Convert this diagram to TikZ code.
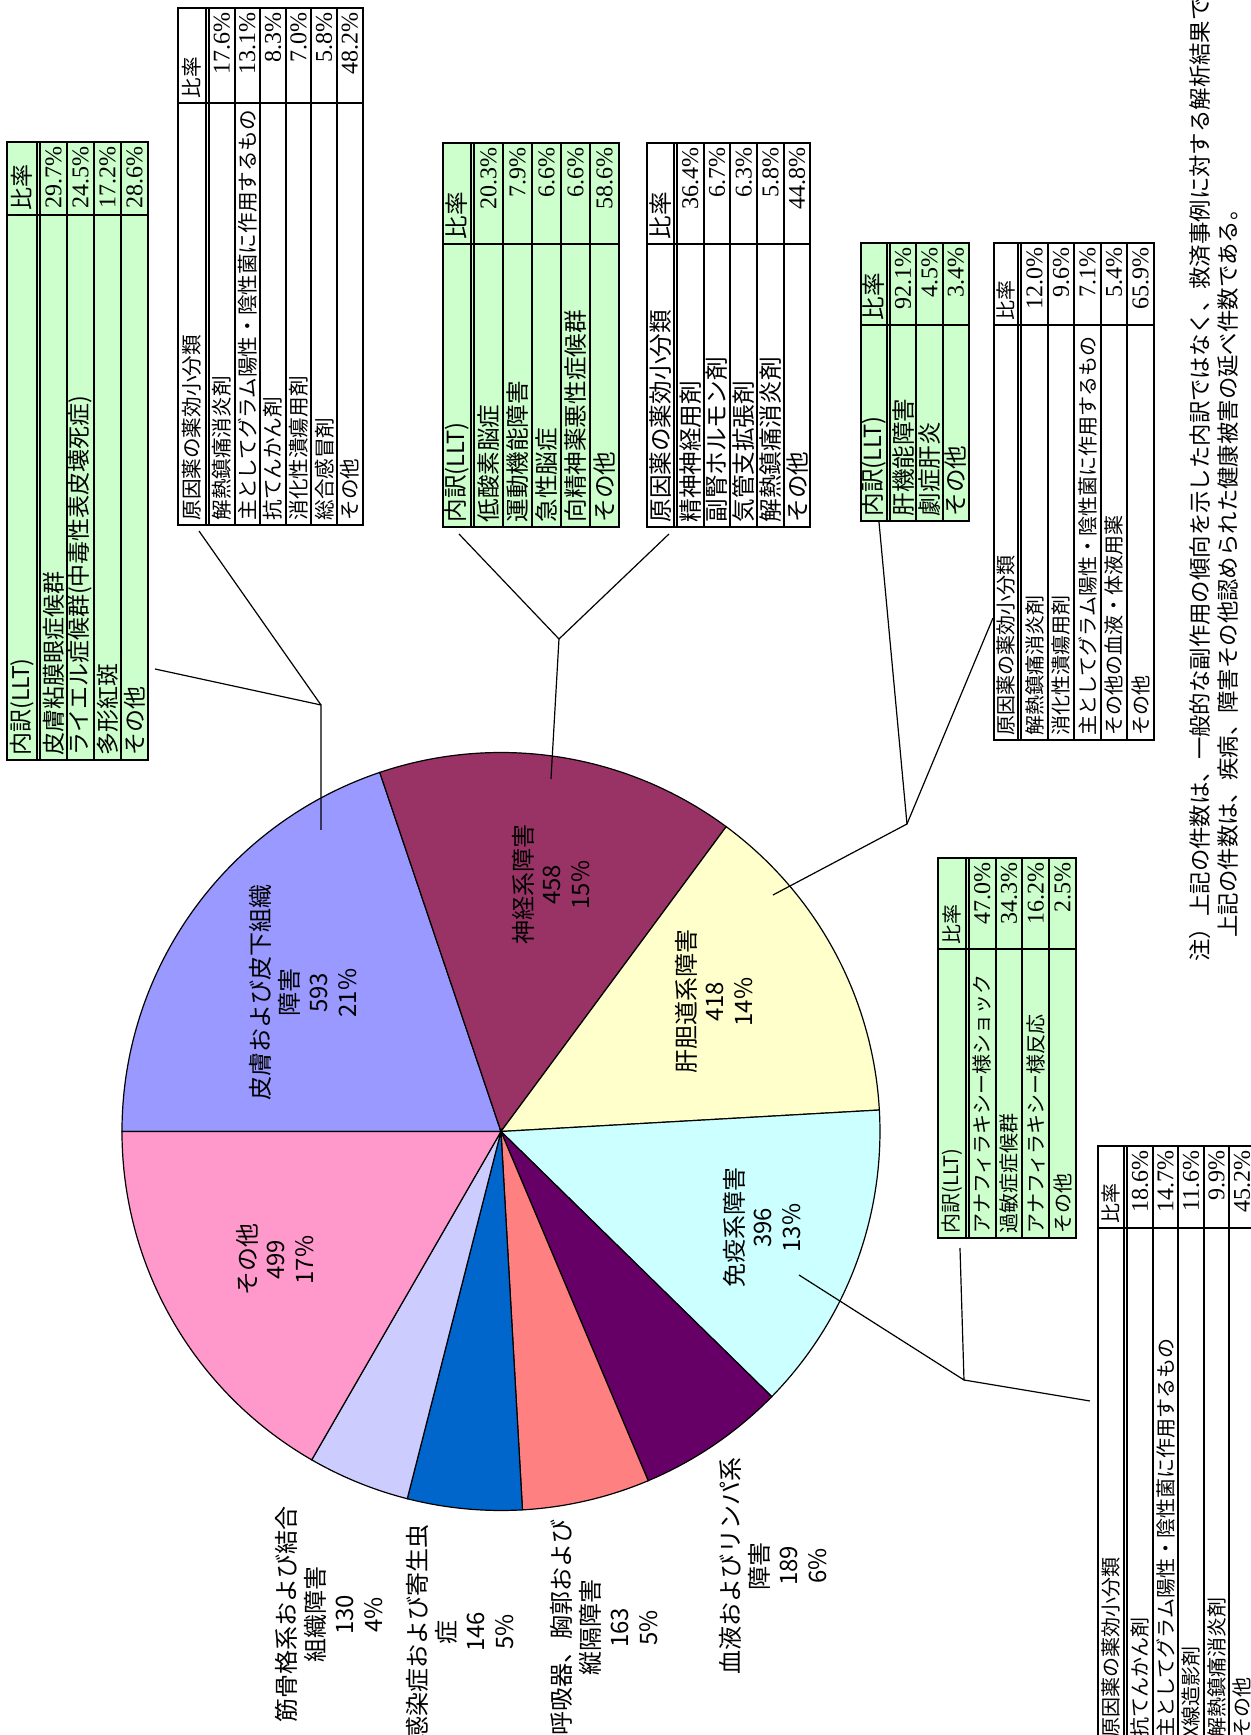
\documentclass[tikz,border=0pt]{standalone}
\usepackage{fontspec}
\setmainfont{Noto Sans CJK JP}
\newfontfamily\tabfont{Noto Sans CJK JP}
\newfontfamily\numfont{Liberation Serif}
\usetikzlibrary{calc}

\definecolor{skincol}{HTML}{9999FF}
\definecolor{nervcol}{HTML}{993366}
\definecolor{livercol}{HTML}{FFFFCC}
\definecolor{immcol}{HTML}{CCFFFF}
\definecolor{bloodcol}{HTML}{660066}
\definecolor{respcol}{HTML}{FF8080}
\definecolor{infcol}{HTML}{0066CC}
\definecolor{muscol}{HTML}{CCCCFF}
\definecolor{othercol}{HTML}{FF99CC}
\definecolor{lltgreen}{HTML}{CCFFCC}

% #1 name, #2 text column, #3 rate column, #4 header height,
% #5 row height, #6 number of rows, #7 header, #8 rows (text/rate)
\newcommand{\ratetable}[8]{%
  \pgfmathsetmacro\tabW{#2+#3}%
  \pgfmathsetmacro\tabB{-#4-3}%
  \pgfmathsetmacro\tabH{-#4-3-#6*#5}%
  \path[tab bg] (0,0) rectangle (\tabW,\tabH);
  \node[head cell] (#1-h) at (0,-#4/2) {#7};
  \node[head cell] (#1-hr) at (#2,-#4/2) {比率};
  \foreach \txt/\val [count=\i] in {#8}{
    \node[body cell] (#1-\i) at (0,{\tabB-(\i-0.5)*#5}) {\txt};
    \node[rate cell] (#1-\i-r) at (\tabW,{\tabB-(\i-0.5)*#5}) {\val};
    \draw[tab line] (0,{\tabB-\i*#5}) -- (\tabW,{\tabB-\i*#5});
  }
  \draw[tab line] (0,-#4) -- (\tabW,-#4) (0,\tabB) -- (\tabW,\tabB);
  \draw[tab line] (#2,0) -- (#2,\tabH);
  \draw[tab line] (0,0) rectangle (\tabW,\tabH);
}

\begin{document}
\begin{tikzpicture}[
  x=0.5pt, y=0.5pt, rotate=90,
  every node/.append style={transform shape},
  tab line/.style={line width=1pt},
  tab bg/.style={fill=white},
  cell font/.style={font=\tabfont\fontsize{10}{12}\selectfont},
  rate font/.style={font=\numfont\fontsize{12}{13}\selectfont},
  head cell/.style={cell font, anchor=west, inner sep=2pt},
  body cell/.style={cell font, anchor=west, inner sep=2pt},
  rate cell/.style={rate font, anchor=east, inner sep=2pt},
  pie label/.style={font=\fontsize{12}{14.4}\selectfont, align=center, inner sep=0pt},
  note text/.style={font=\fontsize{11.2}{13.8}\selectfont, anchor=west, inner sep=0pt},
  slice/.style={draw=black, line width=0.6pt},
  leader/.style={line width=0.6pt}
]
\useasboundingbox (0,0) rectangle (1735,1251);
\clip (0,0) rectangle (1735,1251);
\fill[white] (0,0) rectangle (1735,1251);

% pie
\coordinate (pc) at (603.5,750);
\foreach \a/\b/\col in {90/18.65/skincol, 18.65/-36.457/nervcol,
    -36.457/-86.751/livercol, -86.751/-134.398/immcol,
    -134.398/-157.139/bloodcol, -157.139/-176.751/respcol,
    -176.751/-194.318/infcol, -194.318/-209.96/muscol,
    -209.96/-270/othercol}
  \filldraw[slice, fill=\col] (pc) -- ++(\a:379) arc[start angle=\a, end angle=\b, radius=379] -- cycle;

\node[pie label] (skinlbl) at (742,948) {皮膚および皮下組織\\障害\\593\\21\%};
\node[pie label] (nervlbl) at (850,700) {神経系障害\\458\\15\%};
\node[pie label] (liverlbl) at (733,537) {肝胆道系障害\\418\\14\%};
\node[pie label] (immlbl) at (507,489) {免疫系障害\\396\\13\%};
\node[pie label] (otherlbl) at (475,976) {その他\\499\\17\%};
\node[pie label] (muslbl) at (120,922) {筋骨格系および結合\\組織障害\\130\\4\%};
\node[pie label] (inflbl) at (103,791) {感染症および寄生虫\\症\\146\\5\%};
\node[pie label] (resplbl) at (107,647) {呼吸器、胸郭および\\縦隔障害\\163\\5\%};
\node[pie label] (bloodlbl) at (169,478) {血液およびリンパ系\\障害\\189\\6\%};

% tables
\begin{scope}[shift={(975,1244)}, tab bg/.style={fill=lltgreen},
  cell font/.style={font=\tabfont\fontsize{11.5}{13}\selectfont}]
  \ratetable{tabA}{545}{73}{30}{27}{4}{内訳(LLT)}{皮膚粘膜眼症候群/29.7\%,
    ライエル症候群(中毒性表皮壊死症)/24.5\%, 多形紅斑/17.2\%, その他/28.6\%}
\end{scope}
\begin{scope}[shift={(1210,1073)},
  cell font/.style={font=\tabfont\fontsize{10.3}{12}\selectfont}]
  \ratetable{tabB}{422}{95}{28}{25.6}{6}{原因薬の薬効小分類}{解熱鎮痛消炎剤/17.6\%,
    主としてグラム陽性・陰性菌に作用するもの/13.1\%, 抗てんかん剤/8.3\%,
    消化性潰瘍用剤/7.0\%, 総合感冒剤/5.8\%, その他/48.2\%}
\end{scope}
\begin{scope}[shift={(1208,808)}, tab bg/.style={fill=lltgreen},
  cell font/.style={font=\tabfont\fontsize{11.8}{13}\selectfont}]
  \ratetable{tabC}{283}{101}{28}{29}{5}{内訳(LLT)}{低酸素脳症/20.3\%,
    運動機能障害/7.9\%, 急性脳症/6.6\%, 向精神薬悪性症候群/6.6\%, その他/58.6\%}
\end{scope}
\begin{scope}[shift={(1208,604)},
  cell font/.style={font=\tabfont\fontsize{11.8}{13}\selectfont}]
  \ratetable{tabD}{283}{101}{27}{26.7}{5}{原因薬の薬効小分類}{精神神経用剤/36.4\%,
    副腎ホルモン剤/6.7\%, 気管支拡張剤/6.3\%, 解熱鎮痛消炎剤/5.8\%, その他/44.8\%}
\end{scope}
\begin{scope}[shift={(1214,390)}, tab bg/.style={fill=lltgreen},
  cell font/.style={font=\tabfont\fontsize{11.8}{13}\selectfont}]
  \ratetable{tabE}{196}{82}{26}{26.3}{3}{内訳(LLT)}{肝機能障害/92.1\%,
    劇症肝炎/4.5\%, その他/3.4\%}
\end{scope}
\begin{scope}[shift={(995,257)},
  cell font/.style={font=\tabfont\fontsize{10}{12}\selectfont}]
  \ratetable{tabF}{415}{82}{24.3}{26.5}{5}{原因薬の薬効小分類}{解熱鎮痛消炎剤/12.0\%,
    消化性潰瘍用剤/9.6\%, 主としてグラム陽性・陰性菌に作用するもの/7.1\%,
    その他の血液・体液用薬/5.4\%, その他/65.9\%}
\end{scope}
\begin{scope}[shift={(497,312.7)}, tab bg/.style={fill=lltgreen},
  cell font/.style={font=\tabfont\fontsize{10}{12}\selectfont}]
  \ratetable{tabG}{289}{91}{27.7}{26.7}{4}{内訳(LLT)}{アナフィラキシー様ショック/47.0\%,
    過敏症症候群/34.3\%, アナフィラキシー様反応/16.2\%, その他/2.5\%}
\end{scope}
\begin{scope}[shift={(-7,152.7)},
  cell font/.style={font=\tabfont\fontsize{10}{12}\selectfont}]
  \ratetable{tabH}{514}{82}{26}{25.5}{5}{原因薬の薬効小分類}{抗てんかん剤/18.6\%,
    主としてグラム陽性・陰性菌に作用するもの/14.7\%, X線造影剤/11.6\%,
    解熱鎮痛消炎剤/9.9\%, その他/45.2\%}
\end{scope}

% leaders
\coordinate (skinA) at (1066,1096);
\coordinate (skinB) at (1204,1052);
\coordinate (skinJ) at (1030,930);
\coordinate (skinE) at (905,930);
\draw[leader] (skinA) -- (skinJ) -- (skinE);
\draw[leader] (skinB) -- (skinJ);

\coordinate (nervC) at (1201,792);
\coordinate (nervD) at (1201,582);
\coordinate (nervJ) at (1096,692);
\coordinate (nervE) at (956,700);
\draw[leader] (nervC) -- (nervJ) -- (nervE);
\draw[leader] (nervD) -- (nervJ);

\coordinate (liverE) at (1213,372);
\coordinate (liverF) at (1117,258);
\coordinate (liverJ) at (911,344);
\coordinate (liverEnd) at (840,478);
\draw[leader] (liverE) -- (liverJ) -- (liverEnd);
\draw[leader] (liverF) -- (liverJ);

\coordinate (immG) at (487,291);
\coordinate (immH) at (334,161);
\coordinate (immJ) at (355,287);
\coordinate (immE) at (460,452);
\draw[leader] (immG) -- (immJ) -- (immE);
\draw[leader] (immH) -- (immJ);

% note
\node[note text] (note1) at (773,51) {注）上記の件数は、一般的な副作用の傾向を示した内訳ではなく、救済事例に対する解析結果である。};
\node[note text] (note2) at (797,23) {上記の件数は、疾病、障害その他認められた健康被害の延べ件数である。};
\end{tikzpicture}
\end{document}
